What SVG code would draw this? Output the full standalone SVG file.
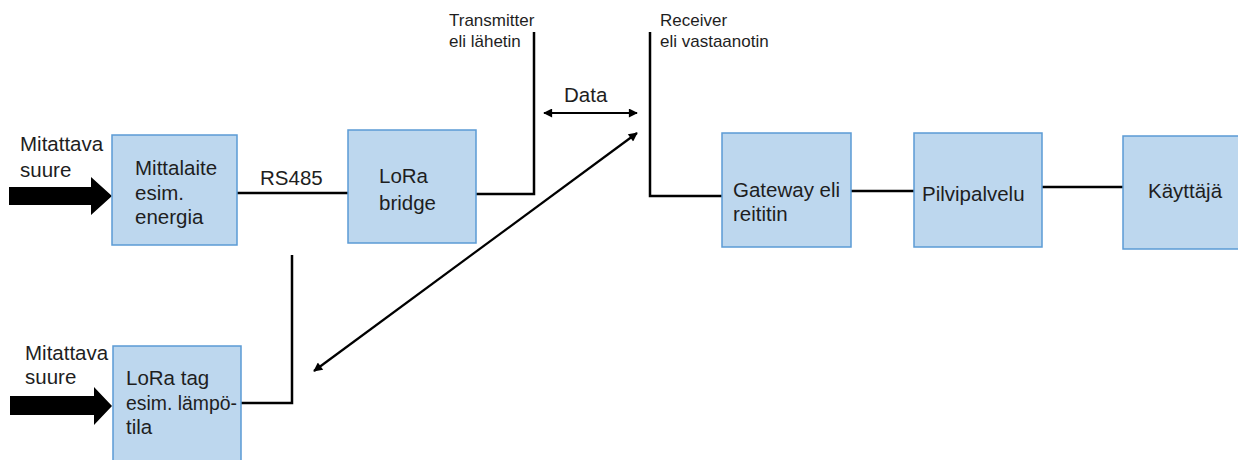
<svg xmlns="http://www.w3.org/2000/svg" width="1238" height="460" viewBox="0 0 1238 460">
<style>
.box{fill:#BDD7EE;stroke:#5B9BD5;stroke-width:1.5}
.t{font-family:"Liberation Sans",Arial,sans-serif;font-size:20.5px;fill:#1e1e1e}
.s{font-family:"Liberation Sans",Arial,sans-serif;font-size:17px;fill:#1e1e1e}
.ln{fill:none;stroke:#000;stroke-width:2.5}
.ar{fill:none;stroke:#000;stroke-width:2.2}
.blk{fill:#000}
</style>
<defs>
<marker id="ah" viewBox="0 0 10 10" refX="9" refY="5" markerWidth="11" markerHeight="9" markerUnits="userSpaceOnUse" orient="auto-start-reverse">
<path d="M0,0 L10,5 L0,10 z" fill="#000"/>
</marker>
</defs>
<rect width="1238" height="460" fill="#fff"/>
<g id="connectors">
<polyline class="ln" points="237,193 348,193"/>
<polyline class="ln" points="476,194 534,194 534,32"/>
<polyline class="ln" points="650,32 650,196 723,196"/>
<polyline class="ln" points="851,191 914,191"/>
<polyline class="ln" points="1042,187 1123,187"/>
<polyline class="ln" points="292,255 292,403 241,403"/>
<line class="ar" x1="544" y1="113" x2="637" y2="113" marker-start="url(#ah)" marker-end="url(#ah)"/>
<line class="ar" x1="314" y1="371" x2="637" y2="133" marker-start="url(#ah)" marker-end="url(#ah)"/>
<text class="t" x="260" y="185">RS485</text>
<text class="t" x="564" y="102">Data</text>
</g>
<g id="input1">
<polygon class="blk" points="9,187 91,187 91,177 112,196 91,215 91,205 9,205"/>
<text class="t" x="20" y="151">Mitattava</text>
<text class="t" x="20" y="177">suure</text>
</g>
<g id="input2">
<polygon class="blk" points="10,396 94,396 94,387 112,406 94,425 94,415 10,415"/>
<text class="t" x="25" y="360">Mitattava</text>
<text class="t" x="25" y="384">suure</text>
</g>
<g id="mittalaite">
<rect class="box" x="112" y="135" width="125" height="110"/>
<text class="t" x="135" y="175">Mittalaite</text>
<text class="t" x="135" y="200">esim.</text>
<text class="t" x="135" y="224">energia</text>
</g>
<g id="lora-bridge">
<rect class="box" x="348" y="130" width="128" height="113"/>
<text class="t" x="379" y="183">LoRa</text>
<text class="t" x="379" y="210">bridge</text>
</g>
<g id="lora-tag">
<rect class="box" x="113" y="346" width="128" height="124"/>
<text class="t" x="126" y="385">LoRa tag</text>
<text class="t" x="126" y="410" textLength="111" lengthAdjust="spacingAndGlyphs">esim. lämpö-</text>
<text class="t" x="126" y="434">tila</text>
</g>
<g id="transmitter">
<text class="s" x="449" y="26">Transmitter</text>
<text class="s" x="449" y="47">eli lähetin</text>
</g>
<g id="receiver">
<text class="s" x="660" y="26">Receiver</text>
<text class="s" x="660" y="47">eli vastaanotin</text>
</g>
<g id="gateway">
<rect class="box" x="722" y="133" width="129" height="114"/>
<text class="t" x="733" y="197">Gateway eli</text>
<text class="t" x="733" y="221">reititin</text>
</g>
<g id="pilvipalvelu">
<rect class="box" x="914" y="133" width="128" height="114"/>
<text class="t" x="922" y="201">Pilvipalvelu</text>
</g>
<g id="kayttaja">
<rect class="box" x="1123" y="136" width="125" height="113"/>
<text class="t" x="1148" y="198">Käyttäjä</text>
</g>
</svg>
